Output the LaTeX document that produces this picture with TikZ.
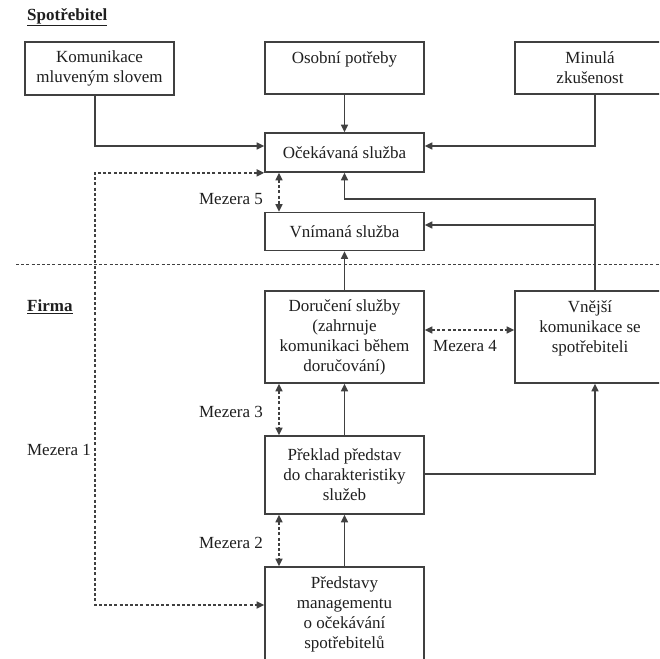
\documentclass[tikz,border=0pt]{standalone}
\usepackage{fontspec}
\setmainfont{Liberation Serif}
\usetikzlibrary{arrows.meta,calc}
\definecolor{lc}{gray}{0.25}
\definecolor{tc}{gray}{0.12}
\begin{document}
\begin{tikzpicture}[x=1pt,y=-1pt,
  box/.style={draw=lc, line width=1.7pt, minimum width=159pt, align=center, inner sep=0pt,
    text=tc, font=\fontsize{17}{20}\selectfont},
  lbl/.style={text=tc, inner sep=0pt, font=\fontsize{17}{20}\selectfont},
  ttl/.style={text=tc, inner sep=0pt, font=\fontsize{17}{20}\selectfont\bfseries},
  arr/.style={draw=lc, line width=1.6pt, -{Triangle[length=7.5pt,width=7pt]}},
  darr/.style={draw=lc, line width=1.6pt, dash pattern=on 3pt off 2.2pt,
    {Triangle[length=7.5pt,width=7pt]}-{Triangle[length=7.5pt,width=7pt]}},
  sepline/.style={draw=lc, line width=1.6pt, dash pattern=on 3pt off 2.2pt}]
\useasboundingbox (0,0) rectangle (659,659);
\clip (0,0) rectangle (659,659);
\fill[white] (0,0) rectangle (659,659);

% titles
\node[ttl, anchor=west] (spot) at (27,17) {\underline{Spotřebitel}};
\node[ttl, anchor=west] (firma) at (27,307) {\underline{Firma}};

% boxes
\node[box, minimum width=149pt, minimum height=53pt] (kom) at (99.5,68.5) {Komunikace\\mluveným slovem};
\node[box, minimum height=52pt] (osob) at (344.5,68) {Osobní potřeby\\\mbox{}};
\node[box, minimum width=150pt, minimum height=52pt] (min) at (590,68) {Minulá\\zkušenost};
\node[box, minimum height=39pt] (oc) at (344.5,152.5) {Očekávaná služba};
\node[box, minimum height=38pt] (vn) at (344.5,231.5) {Vnímaná služba};
\node[box, minimum height=92pt] (dor) at (344.5,337) {Doručení služby\\(zahrnuje\\komunikaci během\\doručování)};
\node[box, minimum width=150pt, minimum height=92pt] (vne) at (590,337) {Vnější\\komunikace se\\spotřebiteli\\\mbox{}};
\node[box, minimum height=78pt] (pre) at (344.5,475) {Překlad představ\\do charakteristiky\\služeb};
\node[box, minimum height=94pt] (man) at (344.5,614) {Představy\\managementu\\o očekávání\\spotřebitelů};

% helper coordinates
\coordinate (kx) at (95,0);
\coordinate (rx) at (595,0);
\coordinate (dx) at (279,0);
\coordinate (j1) at (595,199);
\coordinate (j2) at (595,225);
\coordinate (m1) at (95,605);

% separator
\coordinate (s1) at (16,264.5);
\coordinate (s2) at (659,264.5);
\draw[sepline] (s1) -- (s2);

% solid connectors
\draw[arr] (kom.south -| kx) |- ([yshift=6.5pt]oc.west);
\draw[arr] (osob.south) -- (oc.north);
\draw[arr] (min.south -| rx) |- ([yshift=6.5pt]oc.east);
\draw[arr] (vne.north -| rx) -- (j1) -| (oc.south);
\draw[arr] (j2) -- (vn.east |- j2);
\draw[arr] (dor.north) -- (vn.south);
\draw[arr] (pre.north) -- (dor.south);
\draw[arr] (man.north) -- (pre.south);
\draw[arr] ([yshift=1pt]pre.east) -| (vne.south -| rx);

% gaps
\draw[darr] (oc.south -| dx) -- (vn.north -| dx);
\draw[darr] (dor.south -| dx) -- (pre.north -| dx);
\draw[darr] (pre.south -| dx) -- (man.north -| dx);
\draw[darr] ([yshift=7pt]dor.east) -- ([yshift=7pt]vne.west);
\draw[darr] (oc.south west) -| (m1) -- (man.west |- m1);

% gap labels
\node[lbl, anchor=east] (g5) at (263,199) {Mezera 5};
\node[lbl, anchor=east] (g3) at (263,412) {Mezera 3};
\node[lbl, anchor=east] (g2) at (263,543) {Mezera 2};
\node[lbl, anchor=east] (g1) at (91,450) {Mezera 1};
\node[lbl] (g4) at (465,346) {Mezera 4};
\end{tikzpicture}
\end{document}
